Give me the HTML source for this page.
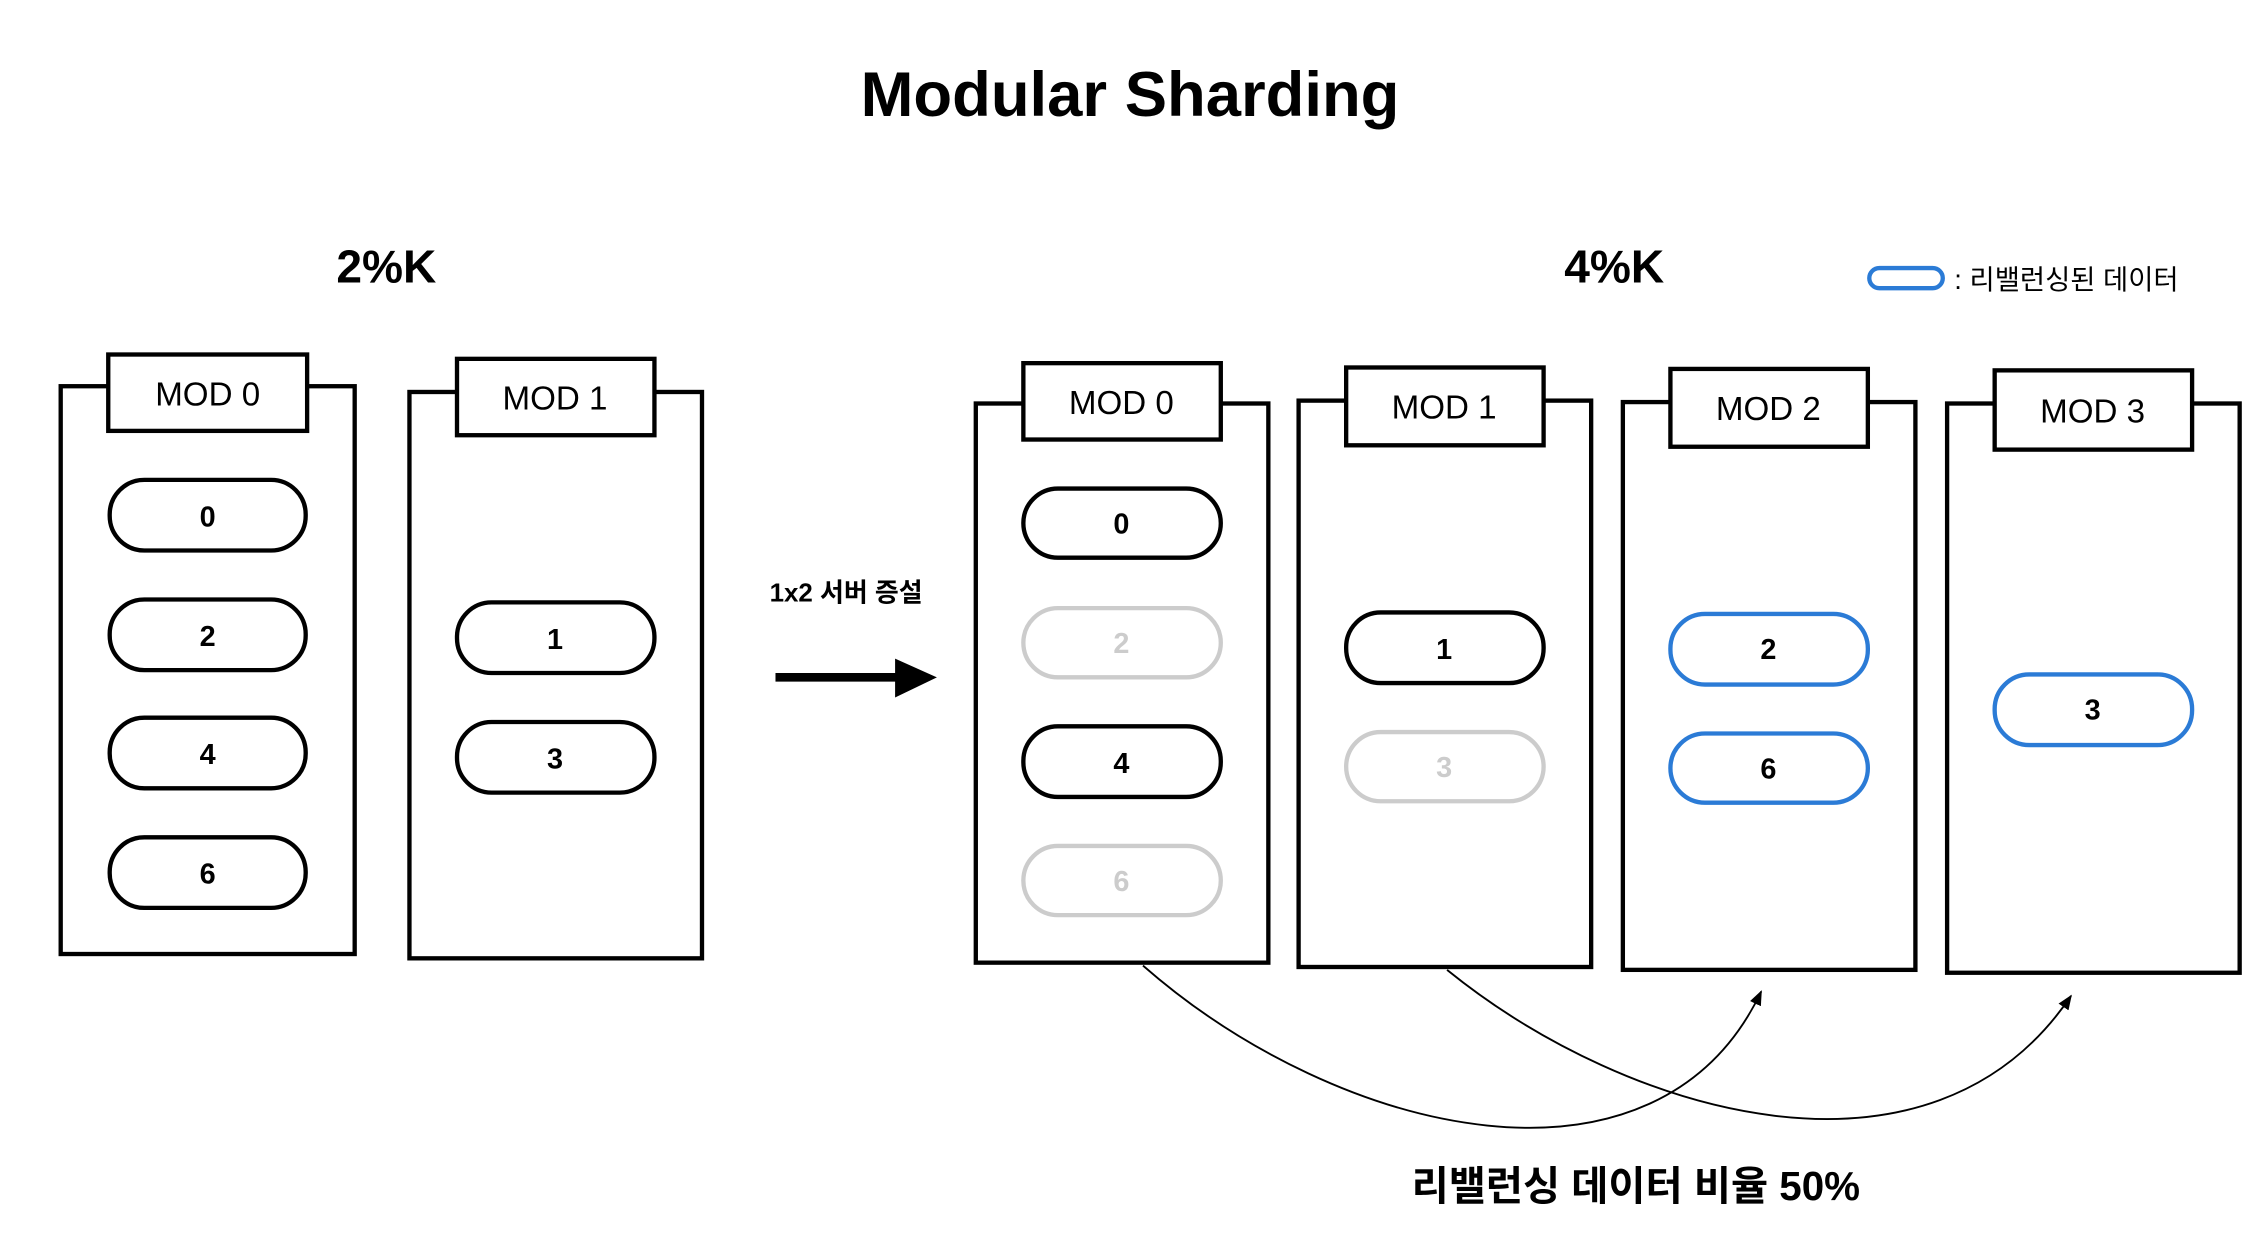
<!DOCTYPE html>
<html><head><meta charset="utf-8"><style>
html,body{margin:0;padding:0;background:#fff;}
svg{display:block;}
text{font-family:"Liberation Sans","Noto Sans CJK KR",sans-serif;font-weight:bold;text-anchor:middle;dominant-baseline:central;}
text.n{font-weight:normal;}
</style></head><body>
<svg width="2260" height="1248" viewBox="0 0 1568 866" xmlns="http://www.w3.org/2000/svg">
<defs><marker id="ah" viewBox="0 0 10 10" refX="9" refY="5" markerWidth="8" markerHeight="8" orient="auto"><path d="M0,1 L10,5 L0,9 z" fill="#000"/></marker></defs>
<g transform="translate(0,1)">
<text x="784" y="65" font-size="44">Modular Sharding</text>
<text x="268" y="184" font-size="32">2%K</text>
<text x="1120" y="184" font-size="32">4%K</text>
<text x="1356" y="193" font-size="19" class="n" style="text-anchor:start">: 리밸런싱된 데이터</text>
</g>
<rect x="1297" y="186" width="51" height="14" rx="7" fill="none" stroke="#2b7bd6" stroke-width="3"/>
<g fill="none" stroke="#000" stroke-width="3">
<rect x="42" y="268" width="204" height="394"/>
<rect x="284" y="272" width="203" height="393"/>
<rect x="677" y="280" width="203" height="388"/>
<rect x="901" y="278" width="203" height="393"/>
<rect x="1126" y="279" width="203" height="394"/>
<rect x="1351" y="280" width="203" height="395"/>
</g>
<g fill="#fff" stroke="#000" stroke-width="3">
<rect x="75" y="246" width="138" height="53"/>
<rect x="317" y="249" width="137" height="53"/>
<rect x="710" y="252" width="137" height="53"/>
<rect x="934" y="255" width="137" height="54"/>
<rect x="1159" y="256" width="137" height="54"/>
<rect x="1384" y="257" width="137" height="55"/>
</g>
<g font-size="23" transform="translate(0,1)">
<text class="n" x="144" y="273">MOD 0</text>
<text class="n" x="385" y="276">MOD 1</text>
<text class="n" x="778" y="279">MOD 0</text>
<text class="n" x="1002" y="282">MOD 1</text>
<text class="n" x="1227" y="283">MOD 2</text>
<text class="n" x="1452" y="285">MOD 3</text>
</g>
<g fill="none" stroke-width="3">
<rect x="76" y="333" width="136" height="49" rx="24" stroke="#000"/>
<rect x="76" y="416" width="136" height="49" rx="24" stroke="#000"/>
<rect x="76" y="498" width="136" height="49" rx="24" stroke="#000"/>
<rect x="76" y="581" width="136" height="49" rx="24" stroke="#000"/>
<rect x="317" y="418" width="137" height="49" rx="24" stroke="#000"/>
<rect x="317" y="501" width="137" height="49" rx="24" stroke="#000"/>
<rect x="710" y="339" width="137" height="48" rx="24" stroke="#000"/>
<rect x="710" y="422" width="137" height="48" rx="24" stroke="#ccc"/>
<rect x="710" y="504" width="137" height="49" rx="24" stroke="#000"/>
<rect x="710" y="587" width="137" height="48" rx="24" stroke="#ccc"/>
<rect x="934" y="425" width="137" height="49" rx="24" stroke="#000"/>
<rect x="934" y="508" width="137" height="48" rx="24" stroke="#ccc"/>
<rect x="1159" y="426" width="137" height="49" rx="24" stroke="#2b7bd6"/>
<rect x="1159" y="509" width="137" height="48" rx="24" stroke="#2b7bd6"/>
<rect x="1384" y="468" width="137" height="49" rx="24" stroke="#2b7bd6"/>
</g>
<g font-size="20" transform="translate(0,1)">
<text x="144" y="358">0</text><text x="144" y="441">2</text><text x="144" y="523">4</text><text x="144" y="606">6</text>
<text x="385" y="443">1</text><text x="385" y="526">3</text>
<text x="778" y="363">0</text><text x="778" y="446" fill="#ccc">2</text><text x="778" y="529">4</text><text x="778" y="611" fill="#ccc">6</text>
<text x="1002" y="450">1</text><text x="1002" y="532" fill="#ccc">3</text>
<text x="1227" y="450">2</text><text x="1227" y="533">6</text>
<text x="1452" y="492">3</text>
</g>
<text x="587" y="412" font-size="18">1x2 서버 증설</text>
<line x1="538" y1="470" x2="624" y2="470" stroke="#000" stroke-width="6"/>
<path d="M621,457 L650,470 L621,484 z" fill="#000"/>
<g fill="none" stroke="#000" stroke-width="1.3">
<path d="M793,670 C930,790 1150,840 1222,688" marker-end="url(#ah)"/>
<path d="M1004,673 C1130,775 1340,835 1437,691" marker-end="url(#ah)"/>
</g>
<text x="1135" y="823" font-size="28">리밸런싱 데이터 비율 50%</text>
</svg>
</body></html>
